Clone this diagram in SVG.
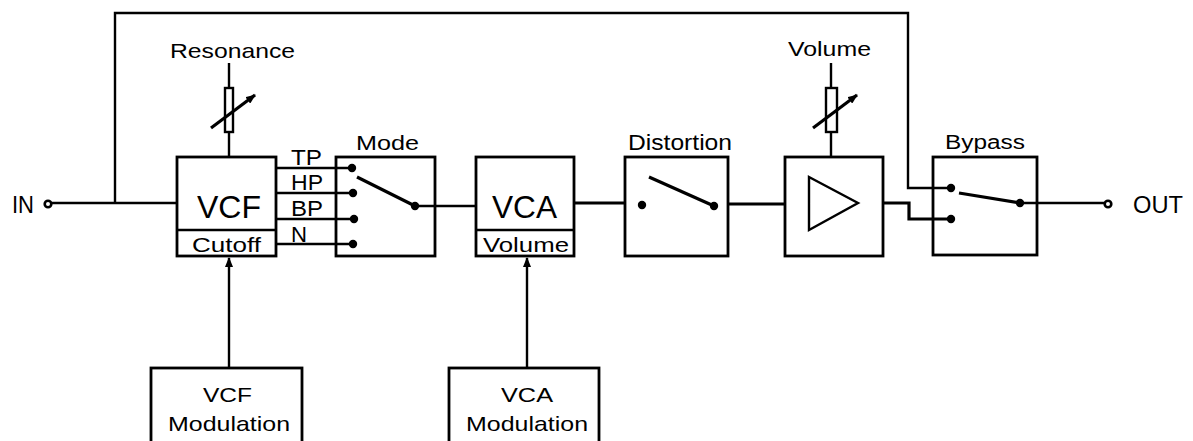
<svg xmlns="http://www.w3.org/2000/svg" width="1193" height="441" viewBox="0 0 1193 441">
<style>
.box{fill:#fff;stroke:#000;stroke-width:2.8}
.w{fill:none;stroke:#000;stroke-width:2.4}
.t{fill:none;stroke:#000;stroke-width:3.2}
.dot{fill:#000}
text{font-family:"Liberation Sans",Arial,sans-serif;fill:#000}
</style>
<defs>
<marker id="ah" viewBox="0 0 10 8" refX="9" refY="4" markerWidth="10" markerHeight="8" markerUnits="userSpaceOnUse" orient="auto">
<path d="M0,0 L10,4 L0,8 z" fill="#000"/>
</marker>
</defs>
<rect width="1193" height="441" fill="#fff"/>
<g id="connectors">
<path class="w" d="M51,203 H177"/>
<path class="w" d="M115,203 V13 H908 V188 H951"/>
<path class="w" d="M229,63 V157"/>
<path class="w" d="M276,168 H352"/>
<path class="w" d="M276,193 H352"/>
<path class="w" d="M276,219 H354"/>
<path class="w" d="M276,244 H353"/>
<path class="w" d="M415,206 H476"/>
<path class="t" d="M574,203 H625"/>
<path class="t" d="M728,204 H785"/>
<path class="w" d="M831,63 V157"/>
<path class="t" d="M883,203 H909 V219 H951"/>
<path class="w" d="M1020,203 H1105"/>
<path class="w" d="M229,368 V258" marker-end="url(#ah)"/>
<path class="w" d="M527,368 V258" marker-end="url(#ah)"/>
</g>
<g id="in">
<circle cx="48" cy="204" r="3.3" fill="#fff" stroke="#000" stroke-width="2.6"/>
<text x="12" y="213" font-size="24" textLength="22" lengthAdjust="spacingAndGlyphs">IN</text>
</g>
<g id="resonance">
<text x="170" y="58" font-size="21" textLength="125" lengthAdjust="spacingAndGlyphs">Resonance</text>
<rect x="225" y="88" width="8" height="44" fill="#fff" stroke="#000" stroke-width="2.4"/>
<path d="M211,128 L255,95" stroke="#000" stroke-width="3.2" marker-end="url(#ah)"/>
</g>
<g id="vcf">
<rect class="box" x="177" y="157" width="99" height="99"/>
<path class="w" d="M177,230 H276" stroke-width="2.8"/>
<text x="197" y="218" font-size="31" textLength="64" lengthAdjust="spacingAndGlyphs">VCF</text>
<text x="192" y="252" font-size="21" textLength="69" lengthAdjust="spacingAndGlyphs">Cutoff</text>
<text x="291" y="165" font-size="22" textLength="31" lengthAdjust="spacingAndGlyphs">TP</text>
<text x="291" y="190" font-size="22" textLength="32" lengthAdjust="spacingAndGlyphs">HP</text>
<text x="291" y="216" font-size="22" textLength="32" lengthAdjust="spacingAndGlyphs">BP</text>
<text x="291" y="242" font-size="22" textLength="16" lengthAdjust="spacingAndGlyphs">N</text>
</g>
<g id="mode">
<text x="356" y="150" font-size="21" textLength="63" lengthAdjust="spacingAndGlyphs">Mode</text>
<rect class="box" x="336" y="157" width="99" height="99" style="fill:none"/>
<circle class="dot" cx="352" cy="168" r="4.2"/>
<circle class="dot" cx="353" cy="193" r="4.2"/>
<circle class="dot" cx="354" cy="219" r="4.2"/>
<circle class="dot" cx="353" cy="244" r="4.2"/>
<path class="t" d="M357,177 L415,206"/>
<circle class="dot" cx="415" cy="206" r="4.2"/>
</g>
<g id="vca">
<rect class="box" x="476" y="157" width="98" height="99"/>
<path class="w" d="M476,230 H574" stroke-width="2.8"/>
<text x="492" y="218" font-size="31" textLength="65" lengthAdjust="spacingAndGlyphs">VCA</text>
<text x="483" y="252" font-size="21" textLength="86" lengthAdjust="spacingAndGlyphs">Volume</text>
</g>
<g id="distortion">
<text x="628" y="150" font-size="22" textLength="104" lengthAdjust="spacingAndGlyphs">Distortion</text>
<rect class="box" x="625" y="157" width="103" height="99"/>
<circle class="dot" cx="642" cy="205" r="4.2"/>
<path class="t" d="M649,177 L714,206"/>
<circle class="dot" cx="714" cy="206" r="4.2"/>
</g>
<g id="volume">
<text x="788" y="56" font-size="20" textLength="83" lengthAdjust="spacingAndGlyphs">Volume</text>
<rect x="826" y="88" width="11" height="44" fill="#fff" stroke="#000" stroke-width="2.4"/>
<path d="M813,128 L857,95" stroke="#000" stroke-width="3.2" marker-end="url(#ah)"/>
</g>
<g id="amp">
<rect class="box" x="785" y="157" width="98" height="99"/>
<path class="w" d="M809,177 L858,203 L809,230 Z" stroke-width="2.8"/>
</g>
<g id="bypass">
<text x="945" y="149" font-size="20" textLength="80" lengthAdjust="spacingAndGlyphs">Bypass</text>
<rect class="box" x="933" y="157" width="104" height="98" style="fill:none"/>
<circle class="dot" cx="951" cy="188" r="4.2"/>
<circle class="dot" cx="951" cy="219" r="4.2"/>
<path class="t" d="M959,193 L1020,203"/>
<circle class="dot" cx="1020" cy="203" r="4.2"/>
</g>
<g id="out">
<circle cx="1108" cy="204" r="3.3" fill="#fff" stroke="#000" stroke-width="2.6"/>
<text x="1133" y="213" font-size="24" textLength="50" lengthAdjust="spacingAndGlyphs">OUT</text>
</g>
<g id="vcf-mod">
<rect class="box" x="151" y="368" width="151" height="80"/>
<text x="203" y="402" font-size="21" textLength="49" lengthAdjust="spacingAndGlyphs">VCF</text>
<text x="168" y="431" font-size="21" textLength="122" lengthAdjust="spacingAndGlyphs">Modulation</text>
</g>
<g id="vca-mod">
<rect class="box" x="449" y="368" width="150" height="80"/>
<text x="501" y="402" font-size="21" textLength="52" lengthAdjust="spacingAndGlyphs">VCA</text>
<text x="466" y="431" font-size="21" textLength="122" lengthAdjust="spacingAndGlyphs">Modulation</text>
</g>
</svg>
